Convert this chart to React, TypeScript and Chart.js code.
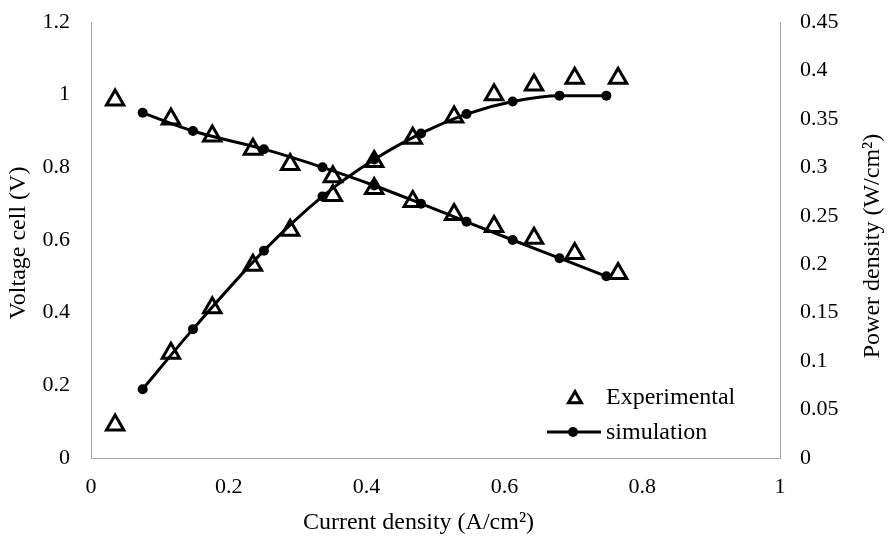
import { useEffect, useRef } from "react";
import { Chart, registerables } from "chart.js";

Chart.register(...registerables);

// Experimental data (current density A/cm², voltage V, power density W/cm²)
const expCurrent = [0.035, 0.116, 0.176, 0.235, 0.289, 0.351, 0.411, 0.467, 0.527, 0.585, 0.643, 0.702, 0.765];
const expVoltage = [0.985, 0.933, 0.886, 0.85, 0.808, 0.774, 0.742, 0.706, 0.67, 0.637, 0.605, 0.563, 0.508];
const expPower = [0.034, 0.108, 0.155, 0.199, 0.235, 0.271, 0.306, 0.33, 0.352, 0.375, 0.385, 0.392, 0.392];

// Simulation data
const simCurrent = [0.075, 0.148, 0.251, 0.336, 0.411, 0.479, 0.545, 0.612, 0.68, 0.748];
const simVoltage = [0.95, 0.9, 0.85, 0.8, 0.75, 0.7, 0.65, 0.6, 0.55, 0.5];
const simPower = [0.071, 0.133, 0.214, 0.27, 0.308, 0.335, 0.355, 0.368, 0.374, 0.374];

// Axis ticks
const xTicks = [0, 0.2, 0.4, 0.6, 0.8, 1];
const yLeftTicks = [0, 0.2, 0.4, 0.6, 0.8, 1, 1.2];
const yRightTicks = [0, 0.05, 0.1, 0.15, 0.2, 0.25, 0.3, 0.35, 0.4, 0.45];

const xTitle = "Current density (A/cm²)";
const yLeftTitle = "Voltage cell (V)";
const yRightTitle = "Power density (W/cm²)";
const legendLabels = ["Experimental", "simulation"];

const FONT = '"Liberation Serif", "Times New Roman", serif';
const AXIS_COLOR = "#a6a6a6";
const TICK_SIZE = 22;

const pairs = (xs: number[], ys: number[]) => xs.map((x, i) => ({ x, y: ys[i] }));
const fmt = (v: number) => String(Number(v.toFixed(2)));

const overlayPlugin = {
  id: "overlay",
  afterDraw(chart: any) {
    const { ctx, chartArea: ca } = chart;
    ctx.save();
    ctx.fillStyle = "#000";
    ctx.strokeStyle = "#000";
    ctx.font = `24px ${FONT}`;
    ctx.textAlign = "center";
    ctx.textBaseline = "middle";
    const midY = (ca.top + ca.bottom) / 2;

    // left title
    ctx.save();
    ctx.translate(19, midY + 3);
    ctx.rotate(-Math.PI / 2);
    ctx.fillText(yLeftTitle, 0, 0);
    ctx.restore();

    // right title
    ctx.save();
    ctx.translate(873, midY + 6);
    ctx.rotate(-Math.PI / 2);
    ctx.fillText(yRightTitle, 0, 0);
    ctx.restore();

    // bottom title
    ctx.fillText(xTitle, (ca.left + ca.right) / 2 - 17, 523);

    // legend
    ctx.font = `24px ${FONT}`;
    ctx.textAlign = "left";
    ctx.textBaseline = "alphabetic";
    const tx = ca.right - 174;
    const cx = ca.right - 205;
    const cy = ca.bottom - 59;
    const r = 7.5;
    ctx.lineWidth = 3;
    ctx.lineJoin = "miter";
    ctx.beginPath();
    for (let k = 0; k < 3; k++) {
      const a = (k * 2 * Math.PI) / 3;
      const px = cx + Math.sin(a) * r;
      const py = cy - Math.cos(a) * r;
      if (k === 0) ctx.moveTo(px, py);
      else ctx.lineTo(px, py);
    }
    ctx.closePath();
    ctx.stroke();
    ctx.fillText(legendLabels[0], tx, ca.bottom - 54);

    const ly = ca.bottom - 26;
    ctx.beginPath();
    ctx.moveTo(ca.right - 233, ly);
    ctx.lineTo(ca.right - 179, ly);
    ctx.stroke();
    ctx.beginPath();
    ctx.arc(ca.right - 207, ly, 5, 0, Math.PI * 2);
    ctx.fill();
    ctx.fillText(legendLabels[1], tx, ca.bottom - 19);
    ctx.restore();
  },
};

const fitVertical = (width: number) => (s: any) => {
  s.width = width;
  s.paddingTop = 0;
  s.paddingBottom = 0;
};

export default function App() {
  const ref = useRef<HTMLCanvasElement | null>(null);

  useEffect(() => {
    if (!ref.current) return;
    const chart = new Chart(ref.current, {
      type: "scatter",
      data: {
        datasets: [
          {
            label: "simulation V",
            data: pairs(simCurrent, simVoltage),
            yAxisID: "y",
            showLine: true,
            borderColor: "#000",
            backgroundColor: "#000",
            borderWidth: 3,
            pointRadius: 5,
            pointBorderWidth: 0,
            pointStyle: "circle",
            cubicInterpolationMode: "monotone",
          },
          {
            label: "simulation P",
            data: pairs(simCurrent, simPower),
            yAxisID: "y1",
            showLine: true,
            borderColor: "#000",
            backgroundColor: "#000",
            borderWidth: 3,
            pointRadius: 5,
            pointBorderWidth: 0,
            pointStyle: "circle",
            cubicInterpolationMode: "monotone",
          },
          {
            label: "Experimental V",
            data: pairs(expCurrent, expVoltage),
            yAxisID: "y",
            showLine: false,
            pointStyle: "triangle",
            pointRadius: 10,
            pointBorderWidth: 3,
            pointBorderColor: "#000",
            pointBackgroundColor: "rgba(0,0,0,0)",
          },
          {
            label: "Experimental P",
            data: pairs(expCurrent, expPower),
            yAxisID: "y1",
            showLine: false,
            pointStyle: "triangle",
            pointRadius: 10,
            pointBorderWidth: 3,
            pointBorderColor: "#000",
            pointBackgroundColor: "rgba(0,0,0,0)",
          },
        ],
      },
      options: {
        responsive: false,
        animation: false,
        layout: { padding: { top: 22, left: 0, right: 0, bottom: 0 } },
        plugins: { legend: { display: false }, tooltip: { enabled: false } },
        scales: {
          x: {
            type: "linear",
            position: "bottom",
            min: xTicks[0],
            max: xTicks[xTicks.length - 1],
            grid: { display: false, drawTicks: false },
            border: { display: true, color: AXIS_COLOR, width: 1 },
            afterBuildTicks: (s: any) => {
              s.ticks = xTicks.map((v) => ({ value: v }));
            },
            afterFit: (s: any) => {
              s.height = 79;
              s.paddingLeft = 0;
              s.paddingRight = 0;
            },
            ticks: {
              padding: 16,
              color: "#000",
              font: { family: FONT, size: TICK_SIZE },
              callback: (v: any) => fmt(Number(v)),
            },
          },
          y: {
            type: "linear",
            position: "left",
            min: 0,
            max: 1.2,
            grid: { display: false, drawTicks: false },
            border: { display: true, color: AXIS_COLOR, width: 1 },
            afterBuildTicks: (s: any) => {
              s.ticks = yLeftTicks.map((v) => ({ value: v }));
            },
            afterFit: fitVertical(91),
            ticks: {
              padding: 21,
              color: "#000",
              font: { family: FONT, size: TICK_SIZE },
              callback: (v: any) => fmt(Number(v)),
            },
          },
          y1: {
            type: "linear",
            position: "right",
            min: 0,
            max: 0.45,
            grid: { display: false, drawTicks: false },
            border: { display: true, color: AXIS_COLOR, width: 1 },
            afterBuildTicks: (s: any) => {
              s.ticks = yRightTicks.map((v) => ({ value: v }));
            },
            afterFit: fitVertical(113),
            ticks: {
              padding: 20,
              color: "#000",
              font: { family: FONT, size: TICK_SIZE },
              callback: (v: any) => fmt(Number(v)),
            },
          },
        },
      },
      plugins: [overlayPlugin],
    } as any);
    return () => chart.destroy();
  }, []);

  return (
    <div style={{ position: "absolute", left: 0, top: 0, width: 893, height: 537, background: "#fff" }}>
      <canvas ref={ref} width={893} height={537} style={{ width: 893, height: 537 }} />
    </div>
  );
}
